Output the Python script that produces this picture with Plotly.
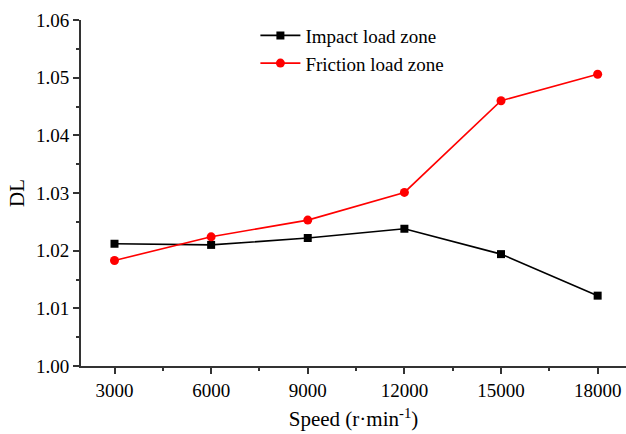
import plotly.graph_objects as go

speed = [3000, 6000, 9000, 12000, 15000, 18000]
impact_dl = [1.0212, 1.0210, 1.0222, 1.0238, 1.0194, 1.0122]
friction_dl = [1.0183, 1.0224, 1.0253, 1.0301, 1.0460, 1.0506]
x_ticks = [3000, 6000, 9000, 12000, 15000, 18000]
y_ticks = [1.00, 1.01, 1.02, 1.03, 1.04, 1.05, 1.06]

FONT = "Liberation Serif, Times New Roman, serif"
AXIS_COLOR = "#333333"

fig = go.Figure()
fig.add_trace(go.Scatter(
    x=speed, y=impact_dl, mode="lines+markers", name="Impact load zone",
    line=dict(color="black", width=1.6),
    marker=dict(symbol="square", size=8, color="black"),
))
fig.add_trace(go.Scatter(
    x=speed, y=friction_dl, mode="lines+markers", name="Friction load zone",
    line=dict(color="#ff0000", width=1.6),
    marker=dict(symbol="circle", size=9, color="#ff0000"),
))

fig.update_layout(
    width=626, height=434,
    margin=dict(l=81, r=0, t=20, b=68),
    plot_bgcolor="white", paper_bgcolor="white",
    font=dict(family=FONT, size=19, color="black"),
    showlegend=True,
    legend=dict(
        x=0.32, y=1.01, xanchor="left", yanchor="top",
        bgcolor="rgba(0,0,0,0)", font=dict(family=FONT, size=19),
        tracegroupgap=0, itemwidth=40,
    ),
    xaxis=dict(
        range=[1960, 18880],
        tickvals=x_ticks, ticktext=[str(v) for v in x_ticks],
        showgrid=False, zeroline=False,
        showline=True, linecolor=AXIS_COLOR, linewidth=2,
        ticks="outside", ticklen=6, tickwidth=1.5, tickcolor=AXIS_COLOR,
        minor=dict(ticks="outside", ticklen=3, tickwidth=1.5, tickcolor=AXIS_COLOR,
                   tickvals=[4500, 7500, 10500, 13500, 16500]),
        title=dict(text="Speed (r·min<sup>-1</sup>)", font=dict(family=FONT, size=21), standoff=12),
        tickfont=dict(family=FONT, size=19),
    ),
    yaxis=dict(
        range=[1.0, 1.06],
        tickvals=y_ticks, ticktext=[f"{v:.2f}" for v in y_ticks],
        showgrid=False, zeroline=False,
        showline=True, linecolor=AXIS_COLOR, linewidth=2,
        ticks="outside", ticklen=6, tickwidth=1.5, tickcolor=AXIS_COLOR,
        minor=dict(ticks="outside", ticklen=3, tickwidth=1.5, tickcolor=AXIS_COLOR,
                   tickvals=[1.005, 1.015, 1.025, 1.035, 1.045, 1.055]),
        title=dict(text="DL", font=dict(family=FONT, size=21), standoff=6),
        tickfont=dict(family=FONT, size=19),
    ),
)

fig.write_html("out.html")
